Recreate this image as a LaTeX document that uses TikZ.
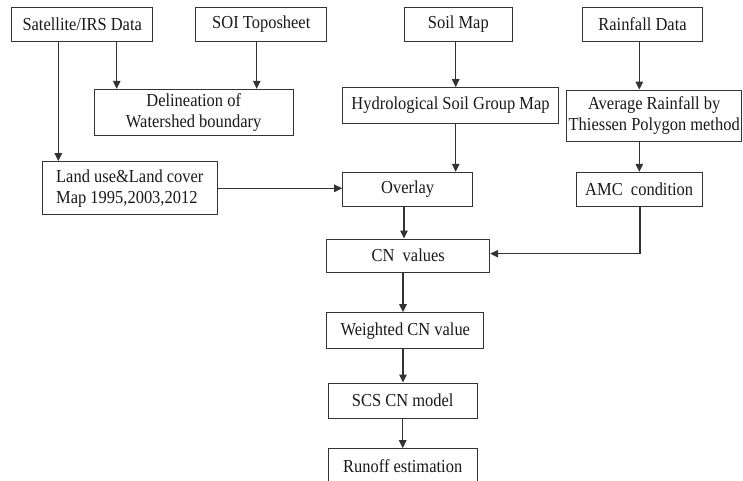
\documentclass[tikz,border=0pt]{standalone}
\usepackage{fontspec}
\setmainfont{Liberation Serif}[FakeStretch=0.9]
\usetikzlibrary{arrows.meta,calc}
\begin{document}
\begin{tikzpicture}[x=1pt,y=-1pt,
  box/.style={draw=black!80,line width=1pt,inner sep=0pt,align=center,
    font=\fontsize{18.3}{21}\selectfont,text=black!90},
  arr/.style={draw=black!80,line width=1.1pt,-{Triangle[width=7.5pt,length=8pt]}}]
\useasboundingbox (0,0) rectangle (743,481);
\clip (0,0) rectangle (743,481);
\node[box,minimum width=141pt,minimum height=33.6pt] (sat) at (82.2,24.5) {Satellite/IRS Data};
\node[box,minimum width=131.3pt,minimum height=33.6pt] (soi) at (261.3,24.5) {SOI Toposheet};
\node[box,minimum width=108pt,minimum height=33.6pt] (soil) at (458.3,24.5) {Soil Map};
\node[box,minimum width=119.6pt,minimum height=33.6pt] (rain) at (642.5,24.5) {Rainfall Data};
\node[box,minimum width=199.3pt,minimum height=46.4pt] (delin) at (193.7,112.5) {Delineation of\\Watershed boundary};
\node[box,minimum width=215.6pt,minimum height=35.6pt] (hsg) at (450.5,105.5) {Hydrological Soil Group Map};
\node[box,minimum width=175pt,minimum height=51.3pt] (avg) at (654.2,115.7) {Average Rainfall by\\Thiessen Polygon method};
\node[box,minimum width=175pt,minimum height=53.3pt,align=left] (land) at (129.8,188.3) {Land use\&Land cover\\Map 1995,2003,2012};
\node[box,minimum width=130pt,minimum height=34.4pt] (ovl) at (407.7,189.5) {Overlay};
\node[box,minimum width=126.3pt,minimum height=34.4pt] (amc) at (639.2,189.5) {AMC\ \ condition};
\node[box,minimum width=163pt,minimum height=33.3pt] (cn) at (408.2,255.7) {CN\ \ values};
\node[box,minimum width=157.3pt,minimum height=36pt] (wcn) at (405.3,330.7) {Weighted CN value};
\node[box,minimum width=149.3pt,minimum height=35pt] (scs) at (402.7,400.5) {SCS CN model};
\node[box,minimum width=149.3pt,minimum height=35pt] (run) at (402.7,466.2) {Runoff estimation};
% connectors
\draw[arr] ([xshift=34.5pt]sat.south) -- ([xshift=34.5pt]sat.south |- delin.north);
\draw[arr] ([xshift=-23.9pt]sat.south) -- ([xshift=-23.9pt]sat.south |- land.north);
\draw[arr] ([xshift=-4.6pt]soi.south) -- ([xshift=-4.6pt]soi.south |- delin.north);
\draw[arr] ([xshift=-2.6pt]soil.south) -- ([xshift=-2.6pt]soil.south |- hsg.north);
\draw[arr] ([xshift=5.2pt]hsg.south) -- ([xshift=5.2pt]hsg.south |- ovl.north);
\draw[arr] ([xshift=-3.2pt]rain.south) -- ([xshift=-3.2pt]rain.south |- avg.north);
\draw[arr] ([xshift=-14.9pt]avg.south) -- ([xshift=-14.9pt]avg.south |- amc.north);
\draw[arr] (land.east) -- (land.east -| ovl.west);
\draw[arr] ([xshift=-3.7pt]ovl.south) -- ([xshift=-3.7pt]ovl.south |- cn.north);
\draw[arr] ([xshift=0.8pt]amc.south) |- ([yshift=2pt]cn.east);
\draw[arr] ([xshift=-5.2pt]cn.south) -- ([xshift=-5.2pt]cn.south |- wcn.north);
\draw[arr] ([xshift=-2.3pt]wcn.south) -- ([xshift=-2.3pt]wcn.south |- scs.north);
\draw[arr] (scs.south) -- (run.north);
\end{tikzpicture}
\end{document}
